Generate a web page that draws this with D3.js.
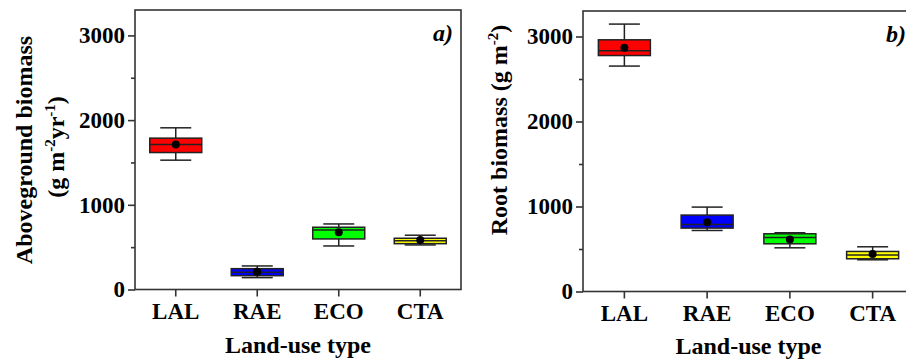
<!DOCTYPE html>
<meta charset="utf-8">
<style>
body { margin: 0; background: #fff; }
svg text { font-family: "Liberation Serif", "Times New Roman", serif; font-weight: bold; fill: #000; }
.frame { fill: none; stroke: #333; stroke-width: 1.6; }
.tick line { stroke: #333; stroke-width: 1.6; }
.domain { display: none; }
.box { stroke: #222; stroke-width: 1.5; }
.whisker { stroke: #222; stroke-width: 1.5; fill: none; }
.median { stroke: #222; stroke-width: 1.5; }
</style>
<svg id="chart" width="906" height="360"></svg>
<script src="https://d3js.org/d3.v7.min.js"></script>
<script>

var categories = ["LAL", "RAE", "ECO", "CTA"];
var boxColors = ["#ff0000", "#0000ff", "#00ff00", "#ffff00"];
var yTicks = [0, 1000, 2000, 3000];
var yMinorTicks = [500, 1500, 2500];

// aboveground biomass (panel a)
var aMin    = [1527, 140, 514, 526];
var aQ1     = [1617, 163, 597, 541];
var aMedian = [1712, 203, 703, 577];
var aQ3     = [1787, 246, 735, 605];
var aMax    = [1909, 278, 774, 641];
var aMean   = [1712, 211, 676, 585];

// root biomass (panel b)
var bMin    = [2652, 718, 514, 373];
var bQ1     = [2776, 746, 561, 385];
var bMedian = [2832, 788, 635, 428];
var bQ3     = [2961, 899, 679, 471];
var bMax    = [3146, 993, 691, 526];
var bMean   = [2867, 816, 612, 440];

var svg = d3.select("#chart");

function makeRows(mn, q1, md, q3, mx, mean) {
  return categories.map(function(c, i) {
    return {cat: c, color: boxColors[i], min: mn[i], q1: q1[i], median: md[i], q3: q3[i], max: mx[i], mean: mean[i]};
  });
}

function drawPanel(opt) {
  var x = d3.scaleBand().domain(categories).range([opt.left, opt.right]).padding(0);
  var y = d3.scaleLinear().domain([0, 3300]).range([opt.bottom, opt.top]);
  var g = svg.append("g");

  // y axis, major + minor ticks
  g.append("g")
      .attr("transform", "translate(" + opt.left + ",0)")
      .call(d3.axisLeft(y).tickValues(yTicks).tickSize(7).tickPadding(3).tickFormat(d3.format("d")))
      .selectAll("text").style("font-size", "23px").style("font-family", null);
  g.append("g")
      .attr("transform", "translate(" + opt.left + ",0)")
      .call(d3.axisLeft(y).tickValues(yMinorTicks).tickSize(4).tickFormat(""));

  // x axis
  g.append("g")
      .attr("transform", "translate(0," + opt.bottom + ")")
      .call(d3.axisBottom(x).tickSize(7).tickPadding(6))
      .selectAll("text").style("font-size", "23px").style("font-family", null);

  g.selectAll(".tick text").attr("fill", "#000");

  // frame
  g.append("rect").attr("class", "frame")
      .attr("x", opt.left).attr("y", opt.top)
      .attr("width", opt.right - opt.left).attr("height", opt.bottom - opt.top);

  var bw = 52, cw = 31;
  var items = g.selectAll(".item").data(opt.rows).enter().append("g")
      .attr("transform", function(d) { return "translate(" + (x(d.cat) + x.bandwidth() / 2) + ",0)"; });

  items.append("line").attr("class", "whisker")
      .attr("x1", 0).attr("x2", 0)
      .attr("y1", function(d) { return y(d.max); }).attr("y2", function(d) { return y(d.q3); });
  items.append("line").attr("class", "whisker")
      .attr("x1", 0).attr("x2", 0)
      .attr("y1", function(d) { return y(d.q1); }).attr("y2", function(d) { return y(d.min); });
  items.append("line").attr("class", "whisker")
      .attr("x1", -cw / 2).attr("x2", cw / 2)
      .attr("y1", function(d) { return y(d.max); }).attr("y2", function(d) { return y(d.max); });
  items.append("line").attr("class", "whisker")
      .attr("x1", -cw / 2).attr("x2", cw / 2)
      .attr("y1", function(d) { return y(d.min); }).attr("y2", function(d) { return y(d.min); });

  items.append("rect").attr("class", "box")
      .attr("x", -bw / 2).attr("width", bw)
      .attr("y", function(d) { return y(d.q3); })
      .attr("height", function(d) { return y(d.q1) - y(d.q3); })
      .attr("fill", function(d) { return d.color; });

  items.append("line").attr("class", "median")
      .attr("x1", -bw / 2).attr("x2", bw / 2)
      .attr("y1", function(d) { return y(d.median); }).attr("y2", function(d) { return y(d.median); });

  items.append("circle")
      .attr("cx", 0).attr("cy", function(d) { return y(d.mean); })
      .attr("r", 4).attr("fill", "#000");

  // x title
  g.append("text")
      .attr("x", (opt.left + opt.right) / 2).attr("y", opt.xTitleY)
      .attr("text-anchor", "middle").style("font-size", "24px")
      .text("Land-use type");

  // panel letter
  g.append("text")
      .attr("x", opt.letterX).attr("y", opt.letterY)
      .attr("text-anchor", "end").style("font-size", "24px").style("font-style", "italic")
      .text(opt.letter);

  return {x: x, y: y, g: g};
}

var pa = drawPanel({
  left: 135, right: 461, top: 10, bottom: 289.5,
  rows: makeRows(aMin, aQ1, aMedian, aQ3, aMax, aMean),
  xTitleY: 353, letter: "a)", letterX: 453, letterY: 41
});

var pb = drawPanel({
  left: 583, right: 914, top: 11, bottom: 291.5,
  rows: makeRows(bMin, bQ1, bMedian, bQ3, bMax, bMean),
  xTitleY: 354, letter: "b)", letterX: 906, letterY: 42
});

// y titles
var t1 = svg.append("text")
    .attr("transform", "translate(32,150) rotate(-90)")
    .attr("text-anchor", "middle").style("font-size", "24px")
    .text("Aboveground biomass");

var t2 = svg.append("text")
    .attr("transform", "translate(64,147) rotate(-90)")
    .attr("text-anchor", "middle").style("font-size", "24px");
t2.append("tspan").text("(g m");
t2.append("tspan").attr("dy", -9).style("font-size", "15px").text("-2");
t2.append("tspan").attr("dy", 9).text("yr");
t2.append("tspan").attr("dy", -9).style("font-size", "15px").text("-1");
t2.append("tspan").attr("dy", 9).text(")");

var t3 = svg.append("text")
    .attr("transform", "translate(507,130) rotate(-90)")
    .attr("text-anchor", "middle").style("font-size", "24px");
t3.append("tspan").text("Root biomass (g m");
t3.append("tspan").attr("dy", -9).style("font-size", "15px").text("-2");
t3.append("tspan").attr("dy", 9).text(")");

</script>
